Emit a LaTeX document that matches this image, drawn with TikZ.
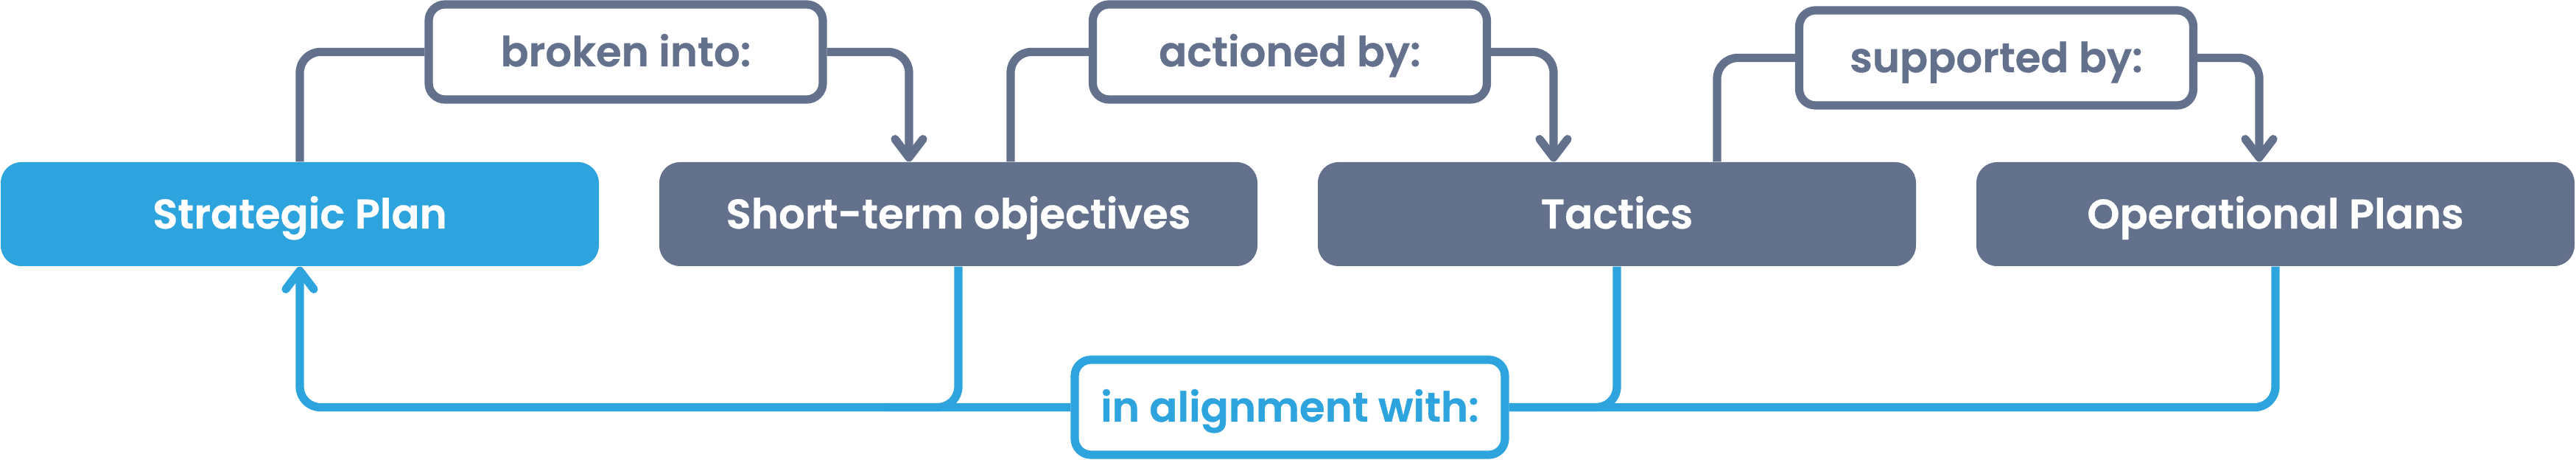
\documentclass[tikz,border=0pt]{standalone}
\usepackage{fontspec}
\setmainfont{Poppins}[BoldFont={Poppins SemiBold}, BoldFeatures={FakeBold=0.6}]
\usetikzlibrary{arrows.meta}
\definecolor{planblue}{RGB}{45,164,222}
\definecolor{slate}{RGB}{99,113,140}

\begin{document}
\begin{tikzpicture}[
        box/.style={rounded corners=0.28cm, minimum width=8.12cm, minimum height=1.41cm,
            text=white, text height=0.39cm, text depth=0pt, font=\bfseries\fontsize{16}{19}\selectfont},
        tag/.style={draw, line width=3.2pt, rounded corners=0.22cm, fill=white,
            minimum width=5.35cm, minimum height=1.29cm,
            text height=0.39cm, text depth=0pt, font=\bfseries\fontsize{16}{19}\selectfont},
        link/.style={line width=3.2pt, rounded corners=0.28cm, line join=round},
        tip/.style={-{Straight Barb[length=0.25cm,width=0.38cm,round]}}
    ]
        \useasboundingbox (0,0) rectangle (34.97,6.24);

        \node[box, fill=planblue] (sp) at (4.07,3.335) {Strategic Plan};
        \node[box, fill=slate] (st) at (13.01,3.335) {Short-term objectives};
        \node[box, fill=slate] (tac) at (21.95,3.335) {Tactics};
        \node[box, fill=slate] (op) at (30.89,3.335) {Operational Plans};

        \node[tag, draw=slate, text=slate] (broken) at (8.495,5.535) {broken into:};
        \node[tag, draw=slate, text=slate] (actioned) at (17.51,5.535) {actioned by:};
        \node[tag, draw=slate, text=slate] (supported) at (27.10,5.455) {supported by:};
        \node[tag, draw=planblue, text=planblue, minimum width=5.84cm] (align) at (17.51,0.715) {in alignment with:};

        \draw[link, slate] (sp.north) |- (broken.west);
        \draw[link, slate, tip] (broken.east) -| ([xshift=-0.67cm]st.north);
        \draw[link, slate] ([xshift=0.71cm]st.north) |- (actioned.west);
        \draw[link, slate, tip] (actioned.east) -| ([xshift=-0.86cm]tac.north);
        \draw[link, slate] ([xshift=1.36cm]tac.north) |- (supported.west);
        \draw[link, slate, tip] (supported.east) -| ([xshift=-0.22cm]op.north);

        \draw[link, planblue, tip] (align.west) -| (sp.south);
        \draw[link, planblue] (st.south) |- ([xshift=-1cm]st.south |- align.west);
        \draw[link, planblue] (tac.south) |- (align.east);
        \draw[link, planblue] (op.south) |- (align.east);

    \end{tikzpicture}
\end{document}
